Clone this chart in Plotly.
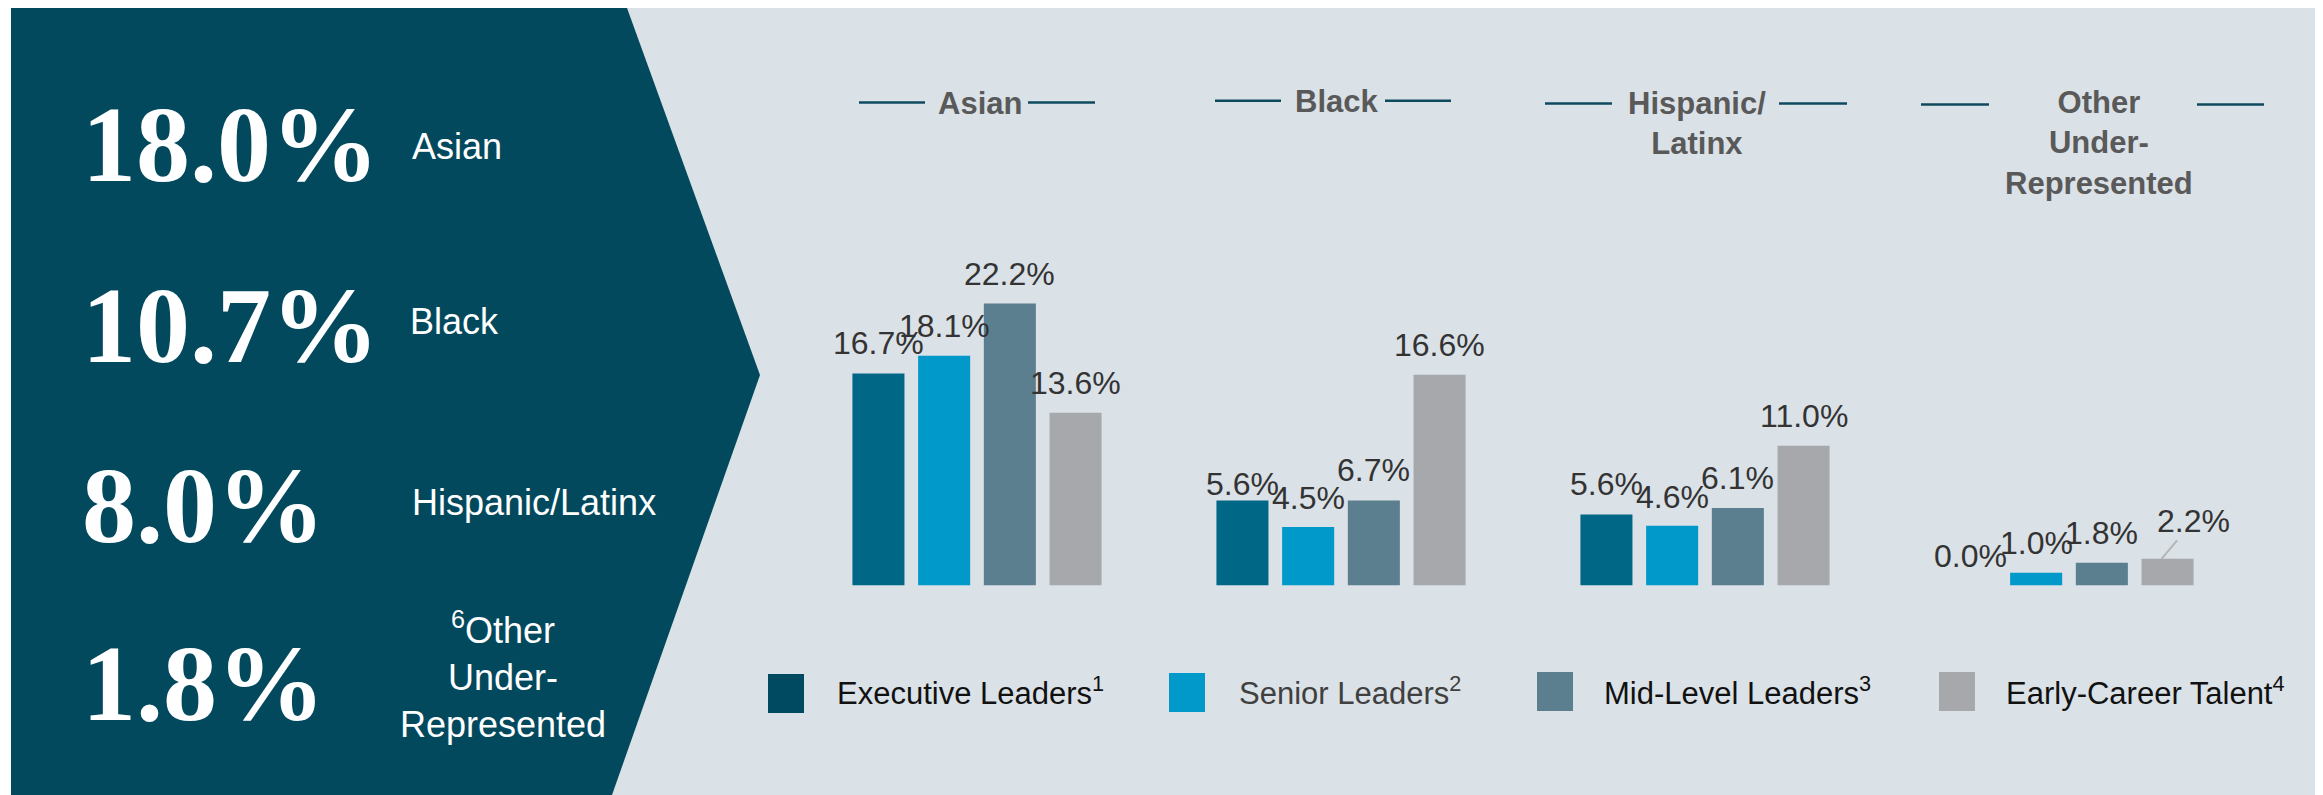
"""Representation by level - grouped bar panel."""

import plotly.graph_objects as go

# page body adds an 8px margin, so the figure is 8px smaller than the window
OFF = 8
W, H = 2323 - OFF, 795 - OFF

# overall representation (left panel)
overall_values = ["18.0%", "10.7%", "8.0%", "1.8%"]
overall_names = ["Asian", "Black", "Hispanic/Latinx", "<sup>6</sup>Other<br>Under-<br>Represented"]

# grouped bars
categories = ["Asian", "Black", "Hispanic/Latinx", "Other Under-Represented"]
group_titles = ["Asian", "Black", "Hispanic/<br>Latinx", "Other<br>Under-<br>Represented"]
series_names = ["Executive Leaders", "Senior Leaders", "Mid-Level Leaders", "Early-Career Talent"]
series_notes = ["1", "2", "3", "4"]

exec_vals = [16.7, 6.7, 5.6, 0.0]
senior_vals = [18.1, 4.6, 4.7, 1.0]
mid_vals = [22.2, 6.7, 6.1, 1.8]
early_vals = [13.6, 16.6, 11.0, 2.1]

exec_labels = ["16.7%", "5.6%", "5.6%", "0.0%"]
senior_labels = ["18.1%", "4.5%", "4.6%", "1.0%"]
mid_labels = ["22.2%", "6.7%", "6.1%", "1.8%"]
early_labels = ["13.6%", "16.6%", "11.0%", "2.2%"]

bar_colors = ["#006787", "#0099C9", "#5B7F8E", "#A7A8AB"]
legend_colors = ["#004A61", "#0099C9", "#5B7F8E", "#A7A8AB"]
legend_text_colors = ["#111111", "#404040", "#111111", "#111111"]

DARK = "#02495E"
LIGHT = "#DAE1E7"
SANS = "Liberation Sans, Arial, sans-serif"
SERIF = "Liberation Serif, Times New Roman, serif"


def px(x):
    return (x - OFF) / W


def py(y):
    return 1 - (y - OFF) / H


# plot area geometry (window pixels)
X0, X1 = 795, 2251
BASE, YMAX = 585.5, 25
PX_PER_PCT = 12.7
BARGAP, GROUPGAP = 0.278, 0.208
slot = (X1 - X0) / len(categories) * (1 - BARGAP) / 4

fig = go.Figure()

all_vals = [exec_vals, senior_vals, mid_vals, early_vals]
all_labels = [exec_labels, senior_labels, mid_labels, early_labels]

for i, name in enumerate(series_names):
    fig.add_trace(
        go.Bar(
            x=categories,
            y=all_vals[i],
            name=name,
            marker=dict(color=bar_colors[i], line=dict(width=0)),
            showlegend=False,
            hoverinfo="skip",
        )
    )

annotations = []
label_font = dict(family=SANS, size=32, color="#333333")

# value labels above the bars
for i in range(4):
    for j, cat in enumerate(categories):
        text = all_labels[i][j]
        val = float(text.rstrip("%"))
        shift = (i - 1.5) * slot
        if i == 3 and j == 3:
            # leader line for the last label
            annotations.append(dict(
                x=cat, y=all_vals[i][j], xref="x", yref="y",
                xshift=shift - 6, text=text, showarrow=True,
                arrowhead=0, arrowwidth=2, arrowcolor="#B5B5B5",
                ax=32, ay=-38, font=label_font,
            ))
            continue
        annotations.append(dict(
            x=cat, y=val, xref="x", yref="y", xshift=shift, yshift=10,
            text=text, showarrow=False, yanchor="bottom", font=label_font,
        ))

# group titles with side lines
title_pos = [(980, 103), (1336, 101), (1697, 123.5), (2099, 143)]
title_lines = [
    [(859, 925, 102.5), (1028, 1095, 102.5)],
    [(1215, 1281, 100.7), (1385, 1451, 100.7)],
    [(1545, 1612, 103.6), (1779, 1847, 103.6)],
    [(1921, 1989, 104.6), (2197, 2264, 104.6)],
]
for t, (cx, cy) in zip(group_titles, title_pos):
    annotations.append(dict(
        x=px(cx), y=py(cy), xref="paper", yref="paper", text=f"<b>{t}</b>",
        showarrow=False, xanchor="center", yanchor="middle", align="center",
        font=dict(family=SANS, size=31, color="#595959"),
    ))

shapes = [
    dict(type="rect", xref="paper", yref="paper", x0=px(11), x1=px(2315),
         y0=0, y1=1, fillcolor=LIGHT, line=dict(width=0), layer="below"),
    dict(type="path", xref="paper", yref="paper",
         path=(f"M {px(11)},1 L {px(627)},1 L {px(760)},{py(375)} "
               f"L {px(612)},0 L {px(11)},0 Z"),
         fillcolor=DARK, line=dict(width=0), layer="below"),
]
for pair in title_lines:
    for xa, xb, yy in pair:
        shapes.append(dict(type="line", xref="paper", yref="paper",
                           x0=px(xa), x1=px(xb), y0=py(yy), y1=py(yy),
                           line=dict(color="#0E4A5E", width=2.5)))

# custom legend
legend_sq = [(768, 674), (1169, 673), (1537, 672), (1939, 672)]
legend_txt_x = [835, 1237, 1602, 2004]
for i, name in enumerate(series_names):
    sx, sy = legend_sq[i]
    shapes.append(dict(type="rect", xref="paper", yref="paper",
                       x0=px(sx), x1=px(sx + 36), y0=py(sy + 39), y1=py(sy),
                       fillcolor=legend_colors[i], line=dict(width=0)))
    annotations.append(dict(
        x=px(legend_txt_x[i]), y=py(691), xref="paper", yref="paper",
        text=f"{name}<sup>{series_notes[i]}</sup>", showarrow=False,
        xanchor="left", yanchor="middle",
        font=dict(family=SANS, size=31, color=legend_text_colors[i]),
    ))

# left panel: overall figures
big_y = [144.5, 325, 505, 683.7]
name_pos = [(410, 146, "left"), (408, 322, "left"), (410, 502, "left"), (503, 675, "center")]
for val, name, yy, (nx, ny, anc) in zip(overall_values, overall_names, big_y, name_pos):
    annotations.append(dict(
        x=px(80), y=py(yy), xref="paper", yref="paper", text=f"<b>{val}</b>",
        showarrow=False, xanchor="left", yanchor="middle",
        font=dict(family=SERIF, size=108, color="white"),
    ))
    annotations.append(dict(
        x=px(nx), y=py(ny), xref="paper", yref="paper", text=name,
        showarrow=False, xanchor=anc, yanchor="middle", align="center",
        font=dict(family=SANS, size=36, color="white"),
    ))

fig.update_layout(
    width=W,
    height=H,
    margin=dict(l=0, r=0, t=0, b=0),
    paper_bgcolor="white",
    plot_bgcolor="rgba(0,0,0,0)",
    barmode="group",
    bargap=BARGAP,
    bargroupgap=GROUPGAP,
    xaxis=dict(domain=[px(X0), px(X1)], visible=False, range=[-0.5, 3.5]),
    yaxis=dict(domain=[py(BASE), py(BASE - YMAX * PX_PER_PCT)],
               range=[0, YMAX], visible=False),
    shapes=shapes,
    annotations=annotations,
)

fig.write_html("out.html")
